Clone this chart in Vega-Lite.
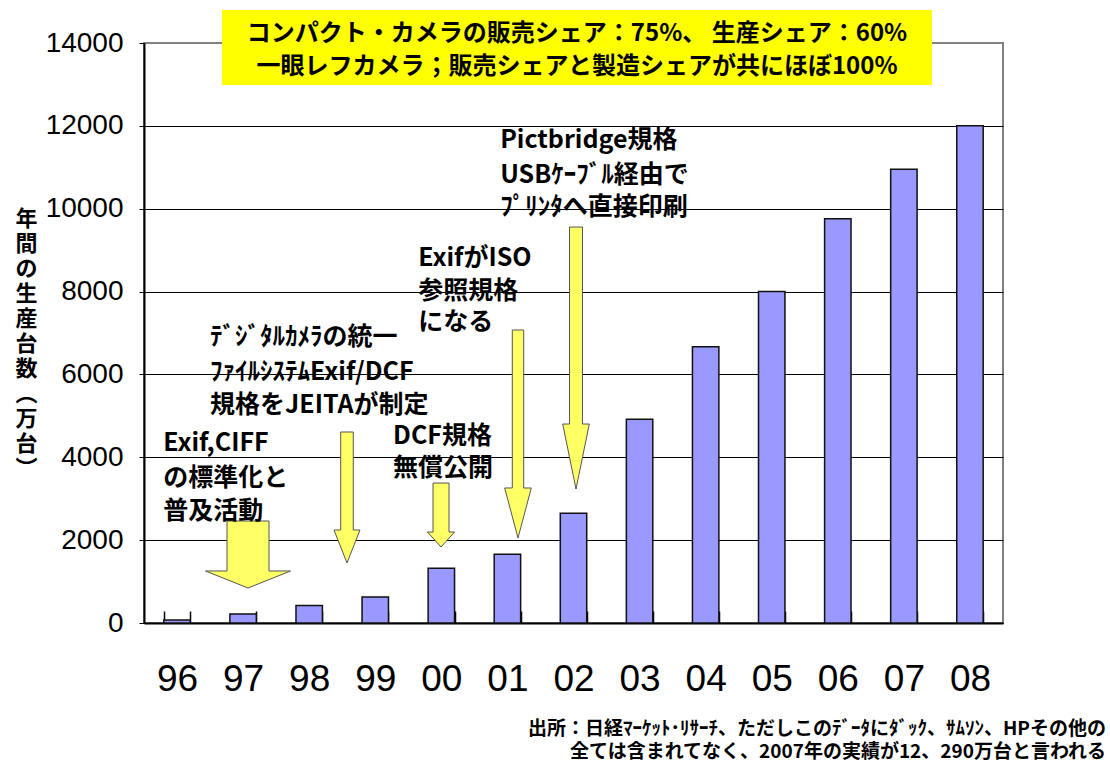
{
  "$schema": "https://vega.github.io/schema/vega-lite/v6.json",
  "width": 859,
  "height": 580,
  "autosize": {"type": "none"},
  "padding": {"left": 144, "top": 43, "right": 107, "bottom": 144},
  "background": "white",
  "config": {
    "view": {"stroke": "#808080", "strokeWidth": 2},
    "font": "Noto Sans CJK JP"
  },
  "datasets": {
    "bars": [
      {"year": "96", "units": 70},
      {"year": "97", "units": 220},
      {"year": "98", "units": 420},
      {"year": "99", "units": 630},
      {"year": "00", "units": 1320},
      {"year": "01", "units": 1660},
      {"year": "02", "units": 2650},
      {"year": "03", "units": 4920},
      {"year": "04", "units": 6670},
      {"year": "05", "units": 8000},
      {"year": "06", "units": 9760},
      {"year": "07", "units": 10950},
      {"year": "08", "units": 12000}
    ],
    "notes": [
      {"t": "Exif,CIFF", "u": 0.29, "v": 4345},
      {"t": "の標準化と", "u": 0.29, "v": 3500},
      {"t": "普及活動", "u": 0.29, "v": 2703},
      {"t": "ﾃﾞｼﾞﾀﾙｶﾒﾗの統一", "u": 1.0, "v": 6903},
      {"t": "ﾌｧｲﾙｼｽﾃﾑExif/DCF", "u": 1.0, "v": 6059},
      {"t": "規格をJEITAが制定", "u": 1.0, "v": 5262},
      {"t": "DCF規格", "u": 3.77, "v": 4514},
      {"t": "無償公開", "u": 3.77, "v": 3741},
      {"t": "ExifがISO", "u": 4.15, "v": 8810},
      {"t": "参照規格", "u": 4.15, "v": 8014},
      {"t": "になる", "u": 4.15, "v": 7266},
      {"t": "Pictbridge規格", "u": 5.39, "v": 11659},
      {"t": "USBｹｰﾌﾞﾙ経由で", "u": 5.39, "v": 10814},
      {"t": "ﾌﾟﾘﾝﾀへ直接印刷", "u": 5.39, "v": 10041}
    ],
    "titles": [
      {"t": "コンパクト・カメラの販売シェア：75%、 生産シェア：60%", "u": 6.553, "v": 14217},
      {"t": "一眼レフカメラ；販売シェアと製造シェアが共にほぼ100%", "u": 6.553, "v": 13421}
    ],
    "foot": [
      {"t": "出所：日経ﾏｰｹｯﾄ･ﾘｻｰﾁ、ただしこのﾃﾞｰﾀにﾀﾞｯｸ、ｻﾑｿﾝ、HPその他の", "u": 14.559, "v": -2559},
      {"t": "全ては含まれてなく、2007年の実績が12、290万台と言われる", "u": 14.559, "v": -3114}
    ],
    "box": [
      {"u1": 1.18, "u2": 11.926, "v1": 12986, "v2": 14797}
    ],
    "arrows": [
      {"id": "a97", "u": 1.574, "v": 845},
      {"id": "a98", "u": 3.072, "v": 1448},
      {"id": "a00", "u": 4.495, "v": 1834},
      {"id": "a01", "u": 5.66, "v": 2052},
      {"id": "a02", "u": 6.538, "v": 3234}
    ]
  },
  "resolve": {"scale": {"x": "independent", "y": "independent"}},
  "layer": [
    {
      "data": {"name": "bars"},
      "mark": {"type": "bar", "fill": "#9999FF", "stroke": "#111111", "strokeWidth": 1.5},
      "encoding": {
        "x": {
          "field": "year", "type": "nominal", "sort": null,
          "scale": {"paddingInner": 0.6, "paddingOuter": 0.3},
          "axis": {
            "title": null, "labelAngle": 0, "labelFont": "Liberation Sans",
            "labelFontSize": 37, "labelColor": "black", "domainColor": "black",
            "domainWidth": 2, "tickColor": "black", "tickWidth": 1.5, "tickSize": -12,
            "tickBand": "extent", "labelPadding": 50, "grid": false
          }
        },
        "y": {
          "field": "units", "type": "quantitative",
          "scale": {"domain": [0, 14000], "nice": false},
          "axis": {
            "values": [0, 2000, 4000, 6000, 8000, 10000, 12000, 14000],
            "format": "d",
            "grid": true,
            "gridColor": {"condition": {"test": "datum.value >= 14000", "value": "#808080"}, "value": "black"},
            "gridWidth": 1,
            "domainColor": "black", "domainWidth": 2, "tickColor": "black", "tickSize": 5,
            "labelFont": "Liberation Sans", "labelFontSize": 28, "labelColor": "black",
            "labelPadding": 16,
            "title": ["年", "間", "の", "生", "産", "台", "数", "︵", "万", "台", "︶"],
            "titleFont": "Noto Sans CJK JP", "titleFontSize": 22, "titleFontWeight": "bold",
            "titleAngle": 0, "titleLineHeight": 25, "titleX": -118, "titleY": 175,
            "titleAlign": "center", "titleBaseline": "middle", "titleColor": "black"
          }
        }
      }
    },
    {
      "data": {"name": "arrows"},
      "mark": {"type": "point", "filled": true, "fill": "#FFFF66", "stroke": "#555555", "strokeWidth": 1, "size": 4, "opacity": 1},
      "encoding": {
        "x": {"field": "u", "type": "quantitative", "scale": {"domain": [0, 13], "nice": false, "zero": false}, "axis": null},
        "y": {"field": "v", "type": "quantitative", "scale": {"domain": [0, 14000], "nice": false}, "axis": null},
        "shape": {
          "field": "id", "type": "nominal", "legend": null,
          "scale": {
            "domain": ["a97", "a98", "a00", "a01", "a02"],
            "range": [
              "M0,0L-42.5,-17L-21,-17L-21,-67L21,-67L21,-17L42.5,-17Z",
              "M0,0L-13,-33L-6.3,-33L-6.3,-131L6.3,-131L6.3,-33L13,-33Z",
              "M0,0L-13.5,-15L-8,-15L-8,-64L8,-64L8,-15L13.5,-15Z",
              "M0,0L-13.3,-50L-5.7,-50L-5.7,-208L5.7,-208L5.7,-50L13.3,-50Z",
              "M0,0L-13.3,-65L-6.5,-65L-6.5,-262L6.5,-262L6.5,-65L13.3,-65Z"
            ]
          }
        }
      }
    },
    {
      "data": {"name": "box"},
      "mark": {"type": "rect", "fill": "#FFFF00"},
      "encoding": {
        "x": {"field": "u1", "type": "quantitative", "scale": {"domain": [0, 13], "nice": false, "zero": false}, "axis": null},
        "x2": {"field": "u2"},
        "y": {"field": "v1", "type": "quantitative", "scale": {"domain": [0, 14000], "nice": false}, "axis": null},
        "y2": {"field": "v2"}
      }
    },
    {
      "data": {"name": "titles"},
      "mark": {"type": "text", "align": "center", "baseline": "middle", "font": "Noto Sans CJK JP", "fontSize": 24, "fontWeight": "bold", "color": "black"},
      "encoding": {
        "x": {"field": "u", "type": "quantitative", "scale": {"domain": [0, 13], "nice": false, "zero": false}, "axis": null},
        "y": {"field": "v", "type": "quantitative", "scale": {"domain": [0, 14000], "nice": false}, "axis": null},
        "text": {"field": "t"}
      }
    },
    {
      "data": {"name": "notes"},
      "mark": {"type": "text", "align": "left", "baseline": "middle", "font": "Noto Sans CJK JP", "fontSize": 25, "fontWeight": "bold", "color": "black"},
      "encoding": {
        "x": {"field": "u", "type": "quantitative", "scale": {"domain": [0, 13], "nice": false, "zero": false}, "axis": null},
        "y": {"field": "v", "type": "quantitative", "scale": {"domain": [0, 14000], "nice": false}, "axis": null},
        "text": {"field": "t"}
      }
    },
    {
      "data": {"name": "foot"},
      "mark": {"type": "text", "align": "right", "baseline": "middle", "font": "Noto Sans CJK JP", "fontSize": 19, "fontWeight": "bold", "color": "black"},
      "encoding": {
        "x": {"field": "u", "type": "quantitative", "scale": {"domain": [0, 13], "nice": false, "zero": false}, "axis": null},
        "y": {"field": "v", "type": "quantitative", "scale": {"domain": [0, 14000], "nice": false}, "axis": null},
        "text": {"field": "t"}
      }
    }
  ]
}
